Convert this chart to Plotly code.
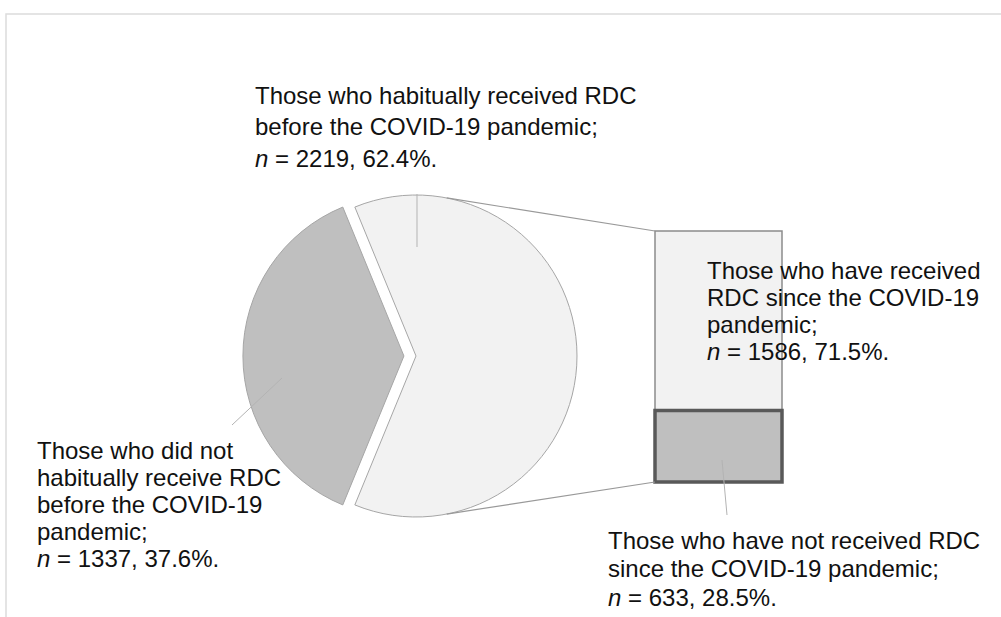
import math
import plotly.graph_objects as go

# ---- data ----
pie_labels = ["Habitually received RDC before COVID-19",
              "Did not habitually receive RDC before COVID-19"]
pie_n = [2219, 1337]
pie_pct = [62.4, 37.6]

bar_labels = ["Have received RDC since COVID-19",
              "Have not received RDC since COVID-19"]
bar_n = [1586, 633]
bar_pct = [71.5, 28.5]

label_top = ["Those who habitually received RDC",
             "before the COVID-19 pandemic;",
             "<i>n</i> = 2219, 62.4%."]
label_left = ["Those who did not",
              "habitually receive RDC",
              "before the COVID-19",
              "pandemic;",
              "<i>n</i> = 1337, 37.6%."]
label_bar_top = ["Those who have received",
                 "RDC since the COVID-19",
                 "pandemic;",
                 "<i>n</i> = 1586, 71.5%."]
label_bar_bottom = ["Those who have not received RDC",
                    "since the COVID-19 pandemic;",
                    "<i>n</i> = 633, 28.5%."]

# ---- layout geometry (pixel space) ----
W, H = 1001, 617
CX, CY, R = 416, 356, 161         # pie centre / radius
PULL = 0.075                      # explode of the second slice
BAR_X0, BAR_X1 = 655, 782         # stacked bar extent
BAR_Y0, BAR_H = 231, 251

LIGHT, DARK = "#f2f2f2", "#bfbfbf"
EDGE = "#a6a6a6"
FONT = dict(family="Liberation Sans, Arial, sans-serif", size=24, color="#111111")

fig = go.Figure()

# pie: first slice centred on 3 o'clock, second slice pulled out to the left
half = R * (1 + PULL)
first_span = 360 * pie_pct[0] / 100
fig.add_trace(go.Pie(
    labels=pie_labels, values=pie_n, sort=False,
    direction="clockwise", rotation=90 - first_span / 2,
    pull=[0, PULL], textinfo="none", showlegend=False,
    marker=dict(colors=[LIGHT, DARK], line=dict(color=EDGE, width=1)),
    domain=dict(x=[(CX - half) / W, (CX + half) / W],
                y=[1 - (CY + half) / H, 1 - (CY - half) / H]),
))

# stacked bar breaking down the first slice
tot = sum(bar_pct)
heights = [p / tot * BAR_H for p in bar_pct]
bases = [BAR_Y0, BAR_Y0 + heights[0]]
bar_styles = [(LIGHT, "#8c8c8c", 1.5), (DARK, "#595959", 3.5)]
for lab, h, b, (fc, lc, lw), n in zip(bar_labels, heights, bases, bar_styles, bar_n):
    fig.add_trace(go.Bar(
        x=[(BAR_X0 + BAR_X1) / 2], y=[h], base=[b], width=[BAR_X1 - BAR_X0],
        name=lab, marker=dict(color=fc, line=dict(color=lc, width=lw)),
        showlegend=False, hovertext=[f"n = {n}"],
    ))

shapes = []
# outer frame of the chart area
shapes.append(dict(type="rect", xref="x", yref="y", x0=6, y0=14, x1=W + 20, y1=H + 20,
                   line=dict(color="#dcdcdc", width=1.5), layer="below"))

# connectors from the pie arc to the bar corners
ang = math.radians(79)
px = CX + R * math.cos(ang)
shapes.append(dict(type="line", xref="x", yref="y", x0=px, y0=CY - R * math.sin(ang),
                   x1=BAR_X0, y1=BAR_Y0, line=dict(color="#999999", width=1.2), layer="above"))
shapes.append(dict(type="line", xref="x", yref="y", x0=px, y0=CY + R * math.sin(ang),
                   x1=BAR_X0, y1=BAR_Y0 + BAR_H, line=dict(color="#999999", width=1.2), layer="above"))

# leader lines for the labels
leaders = [((417, 194), (417, 247)), ((282, 378), (232, 425)), ((722, 460), (727, 515))]
for (x0, y0), (x1, y1) in leaders:
    shapes.append(dict(type="line", xref="x", yref="y", x0=x0, y0=y0, x1=x1, y1=y1,
                       line=dict(color="#b3b3b3", width=1), layer="above"))

annotations = []


def add_block(lines, x, y_first, step):
    for i, t in enumerate(lines):
        annotations.append(dict(text=t, x=x, y=y_first + i * step, xref="x", yref="y",
                                xanchor="left", yanchor="middle", showarrow=False,
                                font=FONT))


add_block(label_top, 253, 95, 31.5)
add_block(label_left, 35, 450, 27.2)
add_block(label_bar_top, 705, 270, 27.3)
add_block(label_bar_bottom, 606, 540, 28.5)

fig.update_layout(
    width=W, height=H,
    margin=dict(l=0, r=0, t=0, b=0, pad=0),
    paper_bgcolor="white", plot_bgcolor="white",
    xaxis=dict(range=[0, W], visible=False, fixedrange=True),
    yaxis=dict(range=[H, 0], visible=False, fixedrange=True),
    shapes=shapes, annotations=annotations,
    barmode="overlay", showlegend=False,
)

fig.write_html("out.html")
